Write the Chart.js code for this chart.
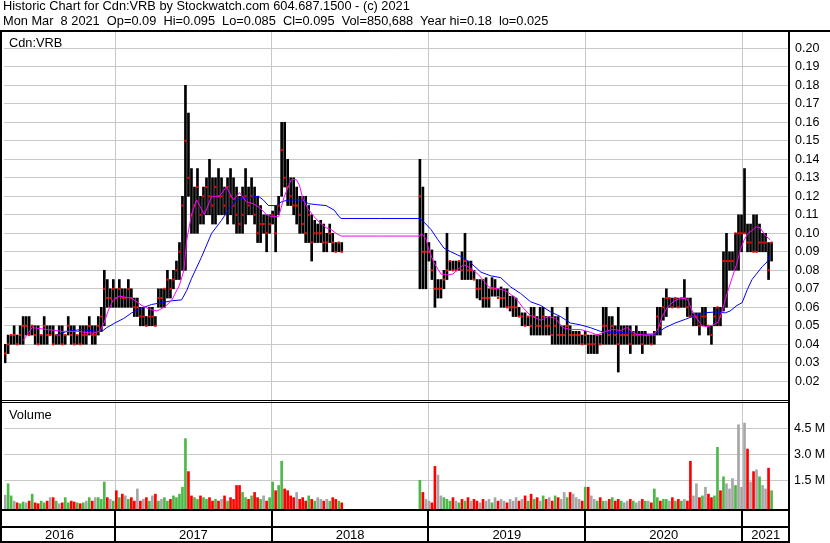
<!DOCTYPE html>
<html>
<head>
<meta charset="utf-8">
<script src="https://cdn.jsdelivr.net/npm/chart.js@4.4.1/dist/chart.umd.min.js"></script>
<style>
  body { margin: 0; background: #fff; }
  #wrap { position: relative; width: 830px; height: 543px; }
  canvas { position: absolute; left: 0; top: 0; }
  .txt { position: absolute; font: 12px "Liberation Sans", Arial, sans-serif; color: #000; white-space: pre; z-index: 2; }
  #hdr { left: 3px; top: -2px; line-height: 15px; font-size: 12.8px; }
</style>
</head>
<body>
<div id="wrap">
  <div id="hdr" class="txt">Historic Chart for Cdn:VRB by Stockwatch.com 604.687.1500 - (c) 2021
Mon Mar  8 2021  Op=0.09  Hi=0.095  Lo=0.085  Cl=0.095  Vol=850,688  Year hi=0.18  lo=0.025</div>
  <div class="txt" style="left:9px; top:35px; font-size:12.8px;">Cdn:VRB</div>
  <div class="txt" style="left:9px; top:407px; font-size:12.8px;">Volume</div>
  <canvas id="myChart" width="830" height="543"></canvas>
</div>
<script>
// weekly bars, x = week number (week 0 = mid April 2016), null = trading halt
const priceHi = [
  .040,.045,.045,.050,.045,.050,.055,.055,.055,.050,
  .050,.050,.045,.055,.050,.050,.050,.045,.050,.050,
  .045,.055,.050,.050,.045,.050,.050,.050,.055,.050,
  .050,.055,.060,.080,.075,.070,.075,.070,.075,.070,
  .070,.075,.070,.065,.065,.060,.060,.055,.060,.060,
  .055,.070,.070,.070,.080,.075,.080,.085,.095,.120,
  .180,.165,.135,.125,.135,.120,.125,.130,.140,.130,
  .130,.135,.130,.125,.130,.135,.130,.125,.120,.125,
  .135,.125,.130,.125,.120,.115,.110,.110,.110,.112,
  .115,.120,.160,.160,.140,.130,.130,.125,.120,.120,
  .120,.115,.110,.107,.105,.107,.105,.100,.105,.100,
  .095,.095,.095,null,null,null,null,null,null,null,
  null,null,null,null,null,null,null,null,null,null,
  null,null,null,null,null,null,null,null,.140,.125,
  .100,.095,.091,.085,.075,.075,.080,.100,.085,.085,
  .085,.085,.090,.100,.085,.085,.080,.075,.075,.075,
  .076,.070,.076,.075,.070,.071,.070,.070,.066,.066,
  .065,.060,.057,.057,.055,.060,.060,.055,.060,.060,
  .055,.055,.060,.055,.055,.050,.050,.060,.050,.047,
  .047,.047,.045,.047,.045,.045,.045,.045,.045,.060,
  .060,.055,.055,.050,.060,.050,.050,.050,.050,.047,
  .050,.047,.047,.047,.045,.045,.047,.060,.060,.065,
  .070,.065,.065,.065,.065,.065,.075,.065,.065,.057,
  .057,.057,.060,.060,.050,.050,.060,.060,.060,.090,
  .100,.090,.090,.100,.110,.110,.135,.105,.105,.110,
  .110,.105,.100,.100,.095,.095
];
const priceLo = [
  .030,.035,.040,.040,.040,.040,.040,.045,.045,.045,
  .040,.040,.040,.040,.040,.045,.040,.040,.040,.040,
  .040,.045,.040,.040,.040,.040,.040,.040,.045,.040,
  .040,.045,.047,.050,.060,.060,.060,.060,.060,.060,
  .060,.060,.060,.055,.055,.050,.050,.050,.050,.050,
  .050,.060,.060,.060,.065,.065,.070,.075,.075,.080,
  .080,.120,.100,.100,.100,.105,.105,.110,.110,.105,
  .105,.110,.110,.110,.105,.110,.105,.100,.100,.100,
  .105,.110,.110,.105,.095,.095,.100,.090,.100,.105,
  .090,.110,.120,.125,.115,.115,.110,.105,.100,.100,
  .095,.095,.085,.095,.095,.095,.090,.090,.095,.090,
  .090,.090,.090,null,null,null,null,null,null,null,
  null,null,null,null,null,null,null,null,null,null,
  null,null,null,null,null,null,null,null,.070,.070,
  .070,.085,.075,.060,.065,.065,.070,.075,.080,.080,
  .080,.080,.075,.075,.075,.075,.075,.065,.064,.060,
  .060,.060,.066,.066,.066,.060,.060,.060,.058,.055,
  .055,.055,.050,.050,.050,.045,.045,.045,.045,.045,
  .045,.045,.040,.040,.040,.040,.040,.040,.040,.040,
  .040,.040,.040,.040,.035,.035,.035,.035,.040,.040,
  .040,.040,.040,.040,.025,.040,.040,.040,.035,.040,
  .040,.040,.035,.040,.040,.040,.040,.045,.045,.053,
  .055,.060,.060,.060,.060,.060,.060,.055,.055,.050,
  .050,.045,.050,.050,.045,.040,.050,.050,.050,.058,
  .060,.080,.080,.080,.080,.090,.100,.090,.090,.090,
  .090,.090,.090,.090,.075,.085
];
const priceCl = [
  .035,.040,.045,.045,.040,.045,.050,.050,.045,.050,
  .045,.040,.045,.050,.045,.045,.040,.045,.045,.040,
  .045,.050,.045,.040,.045,.040,.045,.045,.050,.045,
  .045,.050,.055,.070,.065,.065,.070,.065,.070,.065,
  .065,.070,.065,.060,.060,.055,.055,.050,.055,.055,
  .050,.065,.065,.070,.075,.070,.075,.080,.090,.115,
  .150,.130,.110,.115,.125,.110,.120,.125,.120,.115,
  .125,.120,.120,.115,.125,.120,.115,.110,.105,.110,
  .120,.115,.120,.110,.100,.105,.105,.100,.105,.110,
  .100,.115,.145,.130,.125,.120,.115,.115,.110,.105,
  .100,.110,.095,.100,.100,.100,.095,.095,.100,.095,
  .090,.095,.090,null,null,null,null,null,null,null,
  null,null,null,null,null,null,null,null,null,null,
  null,null,null,null,null,null,null,null,.120,.090,
  .090,.090,.080,.070,.070,.070,.075,.080,.085,.080,
  .080,.085,.080,.085,.080,.080,.075,.070,.070,.065,
  .065,.065,.070,.070,.065,.065,.065,.060,.060,.060,
  .060,.055,.055,.050,.055,.050,.055,.050,.050,.055,
  .050,.050,.045,.050,.045,.045,.045,.050,.045,.045,
  .045,.045,.040,.045,.040,.040,.040,.045,.040,.050,
  .050,.045,.050,.045,.040,.045,.045,.045,.040,.045,
  .045,.045,.040,.045,.045,.040,.045,.055,.050,.060,
  .065,.065,.060,.065,.060,.065,.065,.060,.055,.055,
  .055,.050,.055,.055,.050,.045,.055,.060,.055,.085,
  .085,.085,.085,.100,.100,.100,.100,.095,.095,.090,
  .090,.095,.095,.095,.080,.095
];
// volume in millions of shares
const volM = [
  .64,1.3,.6,.3,.2,.15,.25,.2,.3,.7,
  .2,.15,.3,.2,.3,.5,.5,.3,.15,.2,
  .5,.2,.3,.25,.2,.15,.2,.3,.5,.3,
  .5,.5,.4,1.4,.5,.4,.3,.9,.5,.7,
  .6,.4,.5,.3,1.0,.3,.4,.5,.3,.6,
  .7,.3,.4,.5,.3,.4,.6,.5,.7,1.1,
  3.9,2.0,.6,.5,.4,.6,.5,.4,.5,.3,
  .4,.3,.4,.6,.3,.5,.4,1.2,1.2,.8,
  .5,.4,.6,.8,.5,.4,.6,.3,.5,1.4,
  .9,1.2,2.6,1.0,.9,.6,.5,.8,.4,.5,
  .3,.6,.4,.3,.5,.4,.3,.4,.3,.5,
  .4,.3,.2,null,null,null,null,null,null,null,
  null,null,null,null,null,null,null,null,null,null,
  null,null,null,null,null,null,null,null,1.5,.8,
  .4,.3,.2,2.3,1.8,.6,.5,.4,.3,.5,
  .3,.2,.4,.3,.5,.3,.4,.3,.2,.4,
  .3,.4,.2,.5,.3,.4,.3,.2,.4,.3,
  .5,.3,.4,.6,.3,.7,.4,.5,.3,.6,
  .4,.5,.3,.6,.5,.4,.8,.5,.8,.7,
  .5,.4,.3,1.1,1.1,.6,.4,.3,.5,.3,
  .3,.4,.5,.3,.4,.3,.2,.3,.4,.3,
  .2,.3,.4,.3,.3,.2,1.0,.5,.3,.4,
  .4,.3,.5,.3,.4,.3,.4,.3,2.6,.6,
  1.3,.5,.6,1.1,.7,.5,.6,3.4,.9,1.7,
  1.3,1.0,1.6,1.2,4.7,1.1,4.8,3.3,1.4,2.0,
  2.1,1.7,1.2,1.0,2.2,.9
];

// moving averages (x in weeks)
const fastWk = [6,9,14,19,24,29,31.5,33,34.5,36,38,42,45.5,48,50.5,53,55.5,58,59.5,60.4,62,63.7,64.7,66.3,68.7,71.3,73.6,76,78,80.3,82.6,84.6,87,88.6,91,92.9,95.2,96.9,97.9,99.2,100.9,102.8,104.5,106.8,108.5,110.1,111.8,125,138,138.5,140,141,142.7,145,147.3,149,151,152.6,155,157.6,160.9,163.9,166.5,169.9,172.2,174.8,178.2,180.8,183.1,185.5,188.1,191.4,194.7,197.1,199.7,202,204.7,207,209.7,213,215.3,217,218.6,220.3,222.3,224.6,227,228.6,230.3,231.9,233.6,235.6,237.2,238.6,240.2,241.9,243.5,244.6,245.9,247.2,248.5,249.9,251.2,252.8,254.5];
const fastMA = [.042,.049,.048,.047,.047,.046,.047,.052,.059,.064,.066,.065,.061,.059,.058,.060,.064,.072,.080,.096,.110,.118,.115,.110,.120,.120,.125,.118,.122,.117,.116,.114,.110,.109,.109,.120,.129,.129,.126,.118,.113,.109,.106,.103,.102,.100,.0985,.0985,.0985,.100,.097,.091,.084,.078,.0775,.078,.081,.083,.081,.0775,.071,.070,.069,.065,.060,.0555,.053,.055,.054,.049,.048,.048,.0465,.045,.047,.048,.0475,.049,.0455,.045,.045,.0475,.055,.060,.063,.065,.0645,.058,.0535,.050,.0495,.0505,.052,.058,.0675,.076,.084,.091,.0965,.100,.1015,.1035,.103,.099,.0965];
const slowWk = [17.2,20.5,25.5,30.5,32.2,33.8,36.5,39.5,42.1,45.4,48.7,52.1,55.4,58.7,60.4,62,65.3,68.7,72,74.6,77,78.6,80.3,81.9,84.3,85.9,87.6,90.2,91.9,94.2,96.9,99.2,100.9,103.5,106.8,109.5,111.1,111.8,125,138,140,141.7,144,146,148.3,151.6,154.9,158.3,161.6,164.9,168.2,171.5,174.8,178.2,181.5,184.8,188.1,191.4,194.7,198.1,201.4,204.7,208,211.3,216.3,219.6,222.9,226.3,230.3,232.9,236.3,239.6,241.2,243.5,245.2,246.9,248.5,250.2,251.9,253.5,254.5];
const slowMA = [.045,.047,.048,.047,.047,.049,.0515,.054,.057,.0595,.0615,.0625,.0635,.064,.069,.0755,.087,.100,.107,.1135,.118,.119,.119,.1195,.120,.118,.115,.115,.117,.118,.118,.118,.116,.1155,.115,.1125,.109,.108,.108,.108,.105,.102,.0965,.092,.090,.0875,.084,.079,.077,.076,.071,.0675,.063,.061,.0575,.055,.0515,.0505,.049,.047,.0465,.0465,.046,.0455,.0455,.049,.0515,.0535,.056,.057,.0575,.057,.058,.061,.0625,.0695,.075,.0785,.082,.0845,.088];

// axes
const yearNames = ['2016','2017','2018','2019','2020','2021'];
const yearStarts = [36.57, 88.71, 140.86, 193.0, 245.29];
const xMin = -0.37, xMax = 260.8;
const priceTicks = [.02,.03,.04,.05,.06,.07,.08,.09,.10,.11,.12,.13,.14,.15,.16,.17,.18,.19,.20];
const priceMin = 0.00935, priceMax = 0.20935;
const volTicks = [1.5, 3.0, 4.5];
const volMin = -0.213, volMax = 6.07;

const edges = [xMin].concat(yearStarts, [xMax]);
const xTickVals = [], xTickText = [];
for (let i = 0; i < yearNames.length; i++) {
  xTickVals.push((edges[i] + edges[i + 1]) / 2); xTickText.push(yearNames[i]);
  if (i < yearStarts.length) { xTickVals.push(yearStarts[i]); xTickText.push(''); }
}

const barData = [], closeData = [], volData = [], volColors = [];
let prevCl = null;
for (let i = 0; i < priceHi.length; i++) {
  if (priceHi[i] === null) continue;
  barData.push({x: i, y: [priceLo[i], priceHi[i]]});
  closeData.push({x: i, y: priceCl[i]});
  volData.push({x: i, y: volM[i]});
  let c = '#a6a6a6';
  if (prevCl !== null && priceCl[i] > prevCl) c = '#4cb848';
  if (prevCl !== null && priceCl[i] < prevCl) c = '#ff0000';
  volColors.push(c);
  prevCl = priceCl[i];
}

const frame = {
  id: 'frame',
  afterDraw(chart) {
    const ctx = chart.ctx, a = chart.chartArea, xs = chart.scales.x, yv = chart.scales.yv;
    ctx.save();
    ctx.fillStyle = '#000';
    ctx.fillRect(0, 30, 830, 2);
    ctx.fillRect(0, 30, 2, 513);
    ctx.fillRect(a.right - 1, 30, 2, 513);
    ctx.fillRect(0, yv.top - 1, a.right, 1);
    ctx.fillRect(0, yv.top + 1, a.right, 1);
    ctx.fillRect(0, a.bottom - 1, a.right, 2);
    ctx.fillRect(0, a.bottom + 16, a.right, 2);
    ctx.fillRect(0, 541, a.right, 2);
    yearStarts.forEach(v => {
      const px = Math.round(xs.getPixelForValue(v));
      ctx.fillRect(px - 1, a.bottom, 2, 33);
    });
    ctx.restore();
  }
};

Chart.defaults.font.family = '"Liberation Sans", Arial, sans-serif';
Chart.defaults.color = '#000';

const ctx = document.getElementById('myChart');
new Chart(ctx, {
  type: 'bar',
  data: {
    datasets: [{
      type: 'line',
      label: 'MA fast',
      data: fastWk.map((w, i) => ({x: w, y: fastMA[i]})),
      borderColor: '#ff00ff',
      borderWidth: 1,
      pointRadius: 0,
      yAxisID: 'y',
      order: 1
    }, {
      type: 'line',
      label: 'MA slow',
      data: slowWk.map((w, i) => ({x: w, y: slowMA[i]})),
      borderColor: '#0000ff',
      borderWidth: 1,
      pointRadius: 0,
      yAxisID: 'y',
      order: 2
    }, {
      type: 'line',
      label: 'Close',
      data: closeData,
      showLine: false,
      pointStyle: 'rect',
      pointRadius: 1.5,
      pointBorderWidth: 0,
      pointBackgroundColor: '#ff0000',
      yAxisID: 'y',
      order: 3
    }, {
      type: 'bar',
      label: 'Range',
      data: barData,
      backgroundColor: '#000',
      barThickness: 2,
      grouped: false,
      yAxisID: 'y',
      order: 4
    }, {
      type: 'bar',
      label: 'Volume',
      data: volData,
      backgroundColor: volColors,
      barThickness: 2,
      grouped: false,
      base: volMin,
      yAxisID: 'yv',
      order: 5
    }]
  },
  options: {
    responsive: false,
    animation: false,
    layout: { padding: { top: 31, left: 2, right: 0, bottom: 0 } },
    plugins: { legend: { display: false }, tooltip: { enabled: false } },
    scales: {
      x: {
        type: 'linear',
        min: xMin,
        max: xMax,
        offset: false,
        afterBuildTicks: s => { s.ticks = xTickVals.map(v => ({value: v})); },
        afterFit: s => { s.height = 33; },
        grid: {
          offset: false,
          drawTicks: false,
          color: c => (c.tick && yearStarts.includes(c.tick.value)) ? '#c8c8c8' : 'rgba(0,0,0,0)'
        },
        border: { display: false },
        ticks: {
          autoSkip: false,
          maxRotation: 0,
          padding: 18,
          font: { size: 13 },
          callback: (v, i) => xTickText[i]
        }
      },
      y: {
        type: 'linear',
        position: 'right',
        stack: 'r',
        stackWeight: 370,
        min: priceMin,
        max: priceMax,
        afterBuildTicks: s => { s.ticks = priceTicks.map(v => ({value: v})); },
        afterFit: s => { s.width = 41; },
        grid: { color: '#c8c8c8', drawTicks: false },
        border: { display: false },
        ticks: { autoSkip: false, padding: 6, font: { size: 12.5 }, callback: v => v.toFixed(2) }
      },
      yv: {
        type: 'linear',
        position: 'right',
        stack: 'r',
        stackWeight: 109,
        min: volMin,
        max: volMax,
        afterBuildTicks: s => { s.ticks = volTicks.map(v => ({value: v})); },
        afterFit: s => { s.width = 41; },
        grid: { color: '#c8c8c8', drawTicks: false },
        border: { display: false },
        ticks: { autoSkip: false, padding: 5, font: { size: 12.5 }, callback: v => v.toFixed(1) + ' M' }
      }
    }
  },
  plugins: [frame]
});
</script>
</body>
</html>
